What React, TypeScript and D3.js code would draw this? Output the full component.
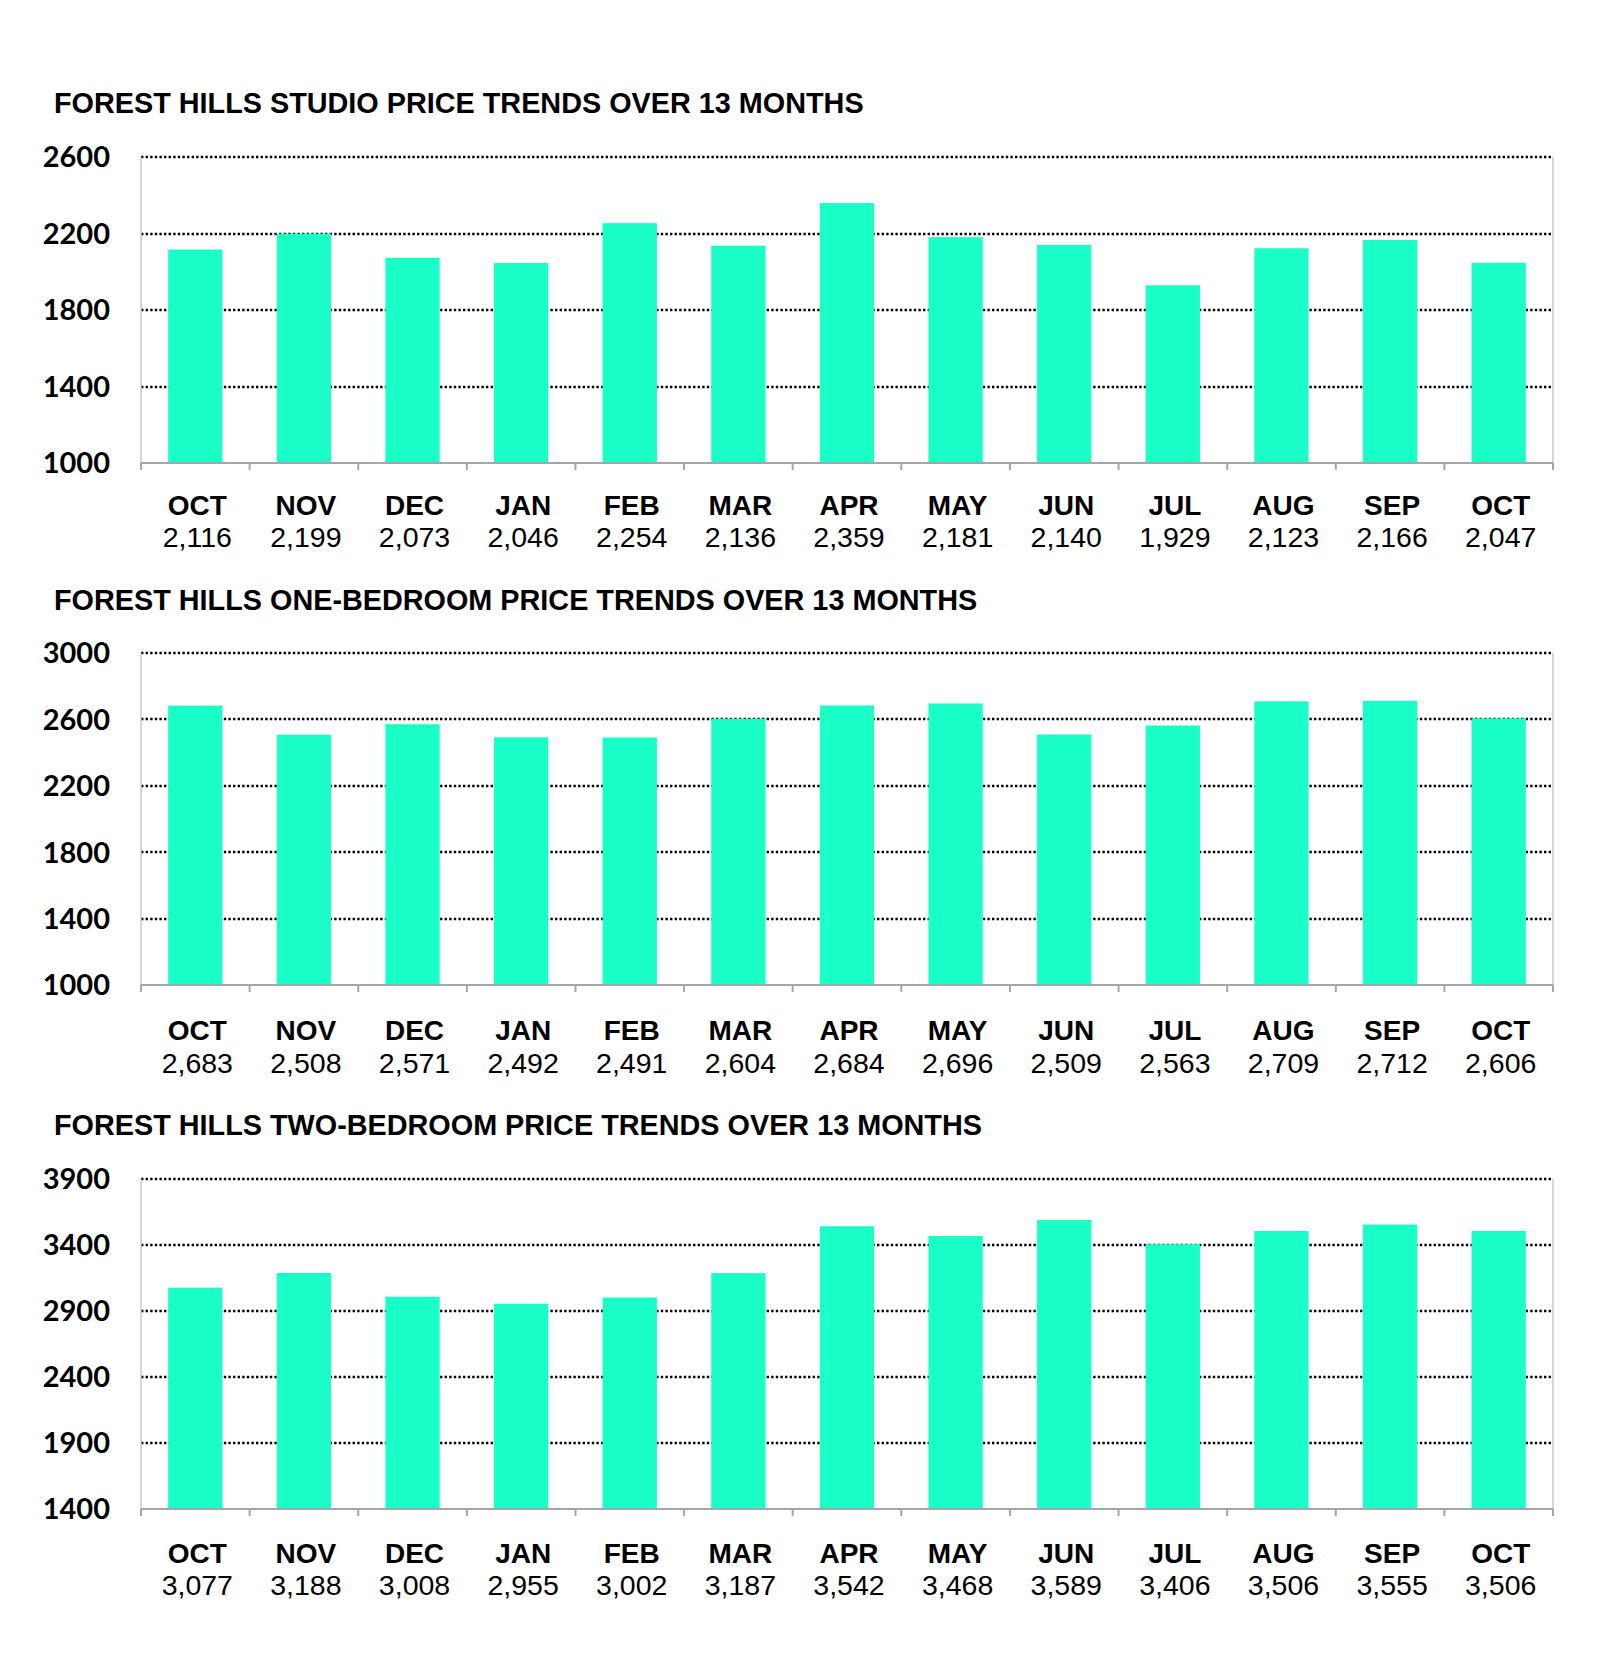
import { useEffect, useRef } from 'react';
import * as d3 from 'd3';

const months = ['OCT', 'NOV', 'DEC', 'JAN', 'FEB', 'MAR', 'APR', 'MAY', 'JUN', 'JUL', 'AUG', 'SEP', 'OCT'];

const studioValues = [2116, 2199, 2073, 2046, 2254, 2136, 2359, 2181, 2140, 1929, 2123, 2166, 2047];
const oneBedValues = [2683, 2508, 2571, 2492, 2491, 2604, 2684, 2696, 2509, 2563, 2709, 2712, 2606];
const twoBedValues = [3077, 3188, 3008, 2955, 3002, 3187, 3542, 3468, 3589, 3406, 3506, 3555, 3506];

const studioTicks = [1000, 1400, 1800, 2200, 2600];
const oneBedTicks = [1000, 1400, 1800, 2200, 2600, 3000];
const twoBedTicks = [1400, 1900, 2400, 2900, 3400, 3900];

const titles = [
  'FOREST HILLS STUDIO PRICE TRENDS OVER 13 MONTHS',
  'FOREST HILLS ONE-BEDROOM PRICE TRENDS OVER 13 MONTHS',
  'FOREST HILLS TWO-BEDROOM PRICE TRENDS OVER 13 MONTHS',
];

const width = 1600;
const height = 1674;
const left = 141;
const right = 1553;
const barColor = '#1affc8';

// layout for each panel: title baseline, plot top / bottom
const panels = [
  { title: titles[0], values: studioValues, ticks: studioTicks, titleY: 113, top: 157, bottom: 463, monthDy: 52, valueDy: 84 },
  { title: titles[1], values: oneBedValues, ticks: oneBedTicks, titleY: 610, top: 653, bottom: 985, monthDy: 55, valueDy: 88 },
  { title: titles[2], values: twoBedValues, ticks: twoBedTicks, titleY: 1135, top: 1179, bottom: 1509, monthDy: 54, valueDy: 86 },
];

const App = () => {
  const svgRef = useRef<SVGSVGElement>(null);

  useEffect(() => {
    const svg = d3.select(svgRef.current).attr('width', width).attr('height', height);
    svg.selectAll('*').remove();

    svg.append('rect').attr('width', width).attr('height', height).attr('fill', '#fff');

    const idx = months.map((_, i) => i);
    const x = d3.scaleBand<number>().domain(idx).range([left, right]).paddingInner(0.5).paddingOuter(0.25);
    const step = x.step();

    panels.forEach((p) => {
      const g = svg.append('g');
      const y = d3
        .scaleLinear()
        .domain([p.ticks[0], p.ticks[p.ticks.length - 1]])
        .range([p.bottom, p.top]);

      g.append('text')
        .attr('x', 54)
        .attr('y', p.titleY)
        .style('font-family', 'Liberation Sans, Arial, sans-serif')
        .style('font-weight', 'bold')
        .style('font-size', '28.8px')
        .attr('fill', '#000')
        .text(p.title);

      // dotted gridlines
      g.selectAll('line.grid')
        .data(p.ticks.slice(1))
        .enter()
        .append('line')
        .attr('class', 'grid')
        .attr('x1', left)
        .attr('x2', right)
        .attr('y1', (d) => Math.round(y(d)))
        .attr('y2', (d) => Math.round(y(d)))
        .attr('stroke', '#000')
        .attr('stroke-width', 2.5)
        .attr('stroke-dasharray', '2.4 2.2');

      // side borders
      [left, right].forEach((xx) => {
        g.append('line')
          .attr('x1', xx)
          .attr('x2', xx)
          .attr('y1', p.top)
          .attr('y2', p.bottom)
          .attr('stroke', '#c8c8c8')
          .attr('stroke-width', 1.5);
      });

      // y labels
      g.selectAll('text.ytick')
        .data(p.ticks)
        .enter()
        .append('text')
        .attr('class', 'ytick')
        .attr('x', 110)
        .attr('y', (d) => y(d))
        .attr('dy', '0.36em')
        .attr('text-anchor', 'end')
        .style('font-family', 'Lato, sans-serif')
        .style('font-weight', 'bold')
        .style('font-size', '29px')
        .attr('fill', '#000')
        .text((d) => d);

      // bars
      g.selectAll('rect.bar')
        .data(p.values)
        .enter()
        .append('rect')
        .attr('class', 'bar')
        .attr('x', (_, i) => x(i) as number)
        .attr('width', x.bandwidth())
        .attr('y', (d) => y(d))
        .attr('height', (d) => y(p.ticks[0]) - y(d))
        .attr('fill', barColor);

      // x axis line and ticks
      g.append('line')
        .attr('x1', left)
        .attr('x2', right)
        .attr('y1', p.bottom)
        .attr('y2', p.bottom)
        .attr('stroke', '#a6a6a6')
        .attr('stroke-width', 2);

      g.selectAll('line.xtick')
        .data(d3.range(months.length + 1))
        .enter()
        .append('line')
        .attr('class', 'xtick')
        .attr('x1', (i) => left + i * step)
        .attr('x2', (i) => left + i * step)
        .attr('y1', p.bottom)
        .attr('y2', p.bottom + 7)
        .attr('stroke', '#a6a6a6')
        .attr('stroke-width', 2);

      const cx = (i: number) => (x(i) as number) + x.bandwidth() / 2 + 2;

      g.selectAll('text.month')
        .data(months)
        .enter()
        .append('text')
        .attr('class', 'month')
        .attr('x', (_, i) => cx(i))
        .attr('y', p.bottom + p.monthDy)
        .attr('text-anchor', 'middle')
        .style('font-family', 'Liberation Sans, Arial, sans-serif')
        .style('font-weight', 'bold')
        .style('font-size', '28px')
        .attr('fill', '#000')
        .text((d) => d);

      g.selectAll('text.val')
        .data(p.values)
        .enter()
        .append('text')
        .attr('class', 'val')
        .attr('x', (_, i) => cx(i))
        .attr('y', p.bottom + p.valueDy)
        .attr('text-anchor', 'middle')
        .style('font-family', 'Liberation Sans, Arial, sans-serif')
        .style('font-size', '28.5px')
        .attr('fill', '#000')
        .text((d) => d3.format(',')(d));
    });
  }, []);

  return (
    <div style={{ position: 'absolute', left: 0, top: 0 }}>
      <svg ref={svgRef} style={{ display: 'block' }}></svg>
    </div>
  );
};

export default App;
